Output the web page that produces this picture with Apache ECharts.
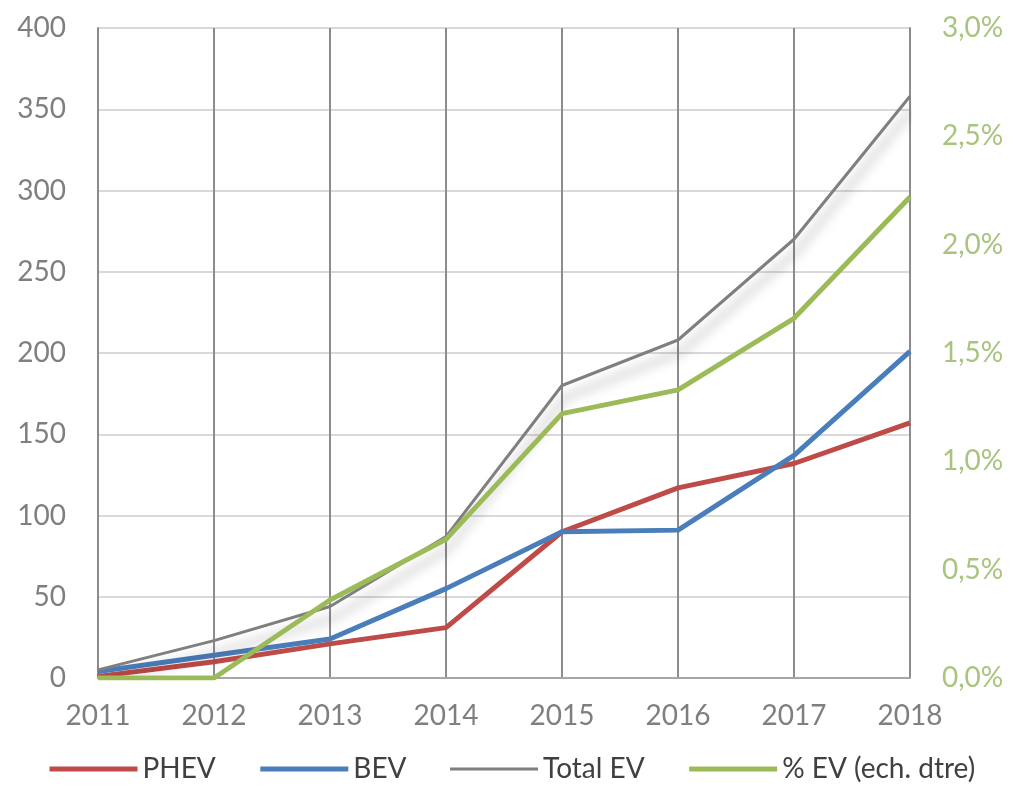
<!DOCTYPE html>
<html>
<head>
<meta charset="utf-8">
<script src="https://cdn.jsdelivr.net/npm/echarts@6/dist/echarts.min.js"></script>
<style>
  html, body { margin: 0; padding: 0; background: #fff; }
  #chart { width: 1013px; height: 792px; }
</style>
</head>
<body>
<div id="chart"></div>
<script>
// values
const years = ['2011', '2012', '2013', '2014', '2015', '2016', '2017', '2018'];
const phev = [1, 10, 21, 31, 90, 117, 132, 157];
const bev = [4, 14, 24, 55, 90, 91, 137, 201];
const totalEv = [5, 23, 44, 87, 180, 208, 270, 358];
const pctEv = [0, 0, 0.36, 0.64, 1.22, 1.33, 1.66, 2.22];

const font = 'Lato, "Open Sans", sans-serif';
const legendLine = (name, w) => ({ name, lineStyle: { width: w, shadowBlur: 0, shadowOffsetX: 0, shadowOffsetY: 0 } });

const chart = echarts.init(document.getElementById('chart'));

chart.setOption({
  animation: false,
  textStyle: { fontFamily: font },
  grid: { left: 98, right: 103, top: 28, bottom: 114 },
  legend: {
    left: 42,
    bottom: 4,
    itemWidth: 88,
    itemHeight: 14,
    itemGap: 42,
    itemStyle: { opacity: 0 },
    textStyle: { fontSize: 28, color: '#404040', fontFamily: font },
    data: [legendLine('PHEV', 5), legendLine('BEV', 5), legendLine('Total EV', 3), legendLine('% EV (ech. dtre)', 5)]
  },
  xAxis: {
    type: 'category',
    data: years,
    boundaryGap: false,
    axisLine: { lineStyle: { color: '#a6a6a6', width: 2 } },
    axisTick: { show: false },
    axisLabel: { fontSize: 28, color: '#7f7f7f', margin: 24 },
    splitLine: { show: true, lineStyle: { color: '#8c8c8c', width: 2 } }
  },
  yAxis: [
    {
      type: 'value',
      min: 0,
      max: 400,
      interval: 50,
      axisLine: { show: true, lineStyle: { color: '#8c8c8c', width: 2 } },
      axisTick: { show: false },
      axisLabel: { fontSize: 28, color: '#7f7f7f', margin: 32 },
      splitLine: { lineStyle: { color: '#d9d9d9', width: 2 } }
    },
    {
      type: 'value',
      min: 0,
      max: 3,
      interval: 0.5,
      position: 'right',
      axisLine: { show: true, lineStyle: { color: '#8c8c8c', width: 2 } },
      axisTick: { show: false },
      axisLabel: {
        fontSize: 28,
        color: '#a9c47f',
        margin: 32,
        formatter: v => v.toFixed(1).replace('.', ',') + '%'
      },
      splitLine: { show: false }
    }
  ],
  series: [
    {
      name: 'PHEV',
      type: 'line',
      data: phev,
      symbol: 'none',
      color: '#be4b48',
      lineStyle: { width: 5, color: '#be4b48' }
    },
    {
      name: 'BEV',
      type: 'line',
      data: bev,
      symbol: 'none',
      color: '#4a7ebb',
      lineStyle: { width: 5, color: '#4a7ebb' }
    },
    {
      name: 'Total EV',
      type: 'line',
      data: totalEv,
      symbol: 'none',
      color: '#7f7f7f',
      lineStyle: {
        width: 3,
        color: '#7f7f7f',
        shadowColor: 'rgba(0,0,0,0.35)',
        shadowBlur: 12,
        shadowOffsetX: 3,
        shadowOffsetY: 12
      }
    },
    {
      name: '% EV (ech. dtre)',
      type: 'line',
      yAxisIndex: 1,
      data: pctEv,
      symbol: 'none',
      color: '#9bbb59',
      lineStyle: { width: 5, color: '#9bbb59' }
    }
  ]
});
</script>
</body>
</html>
